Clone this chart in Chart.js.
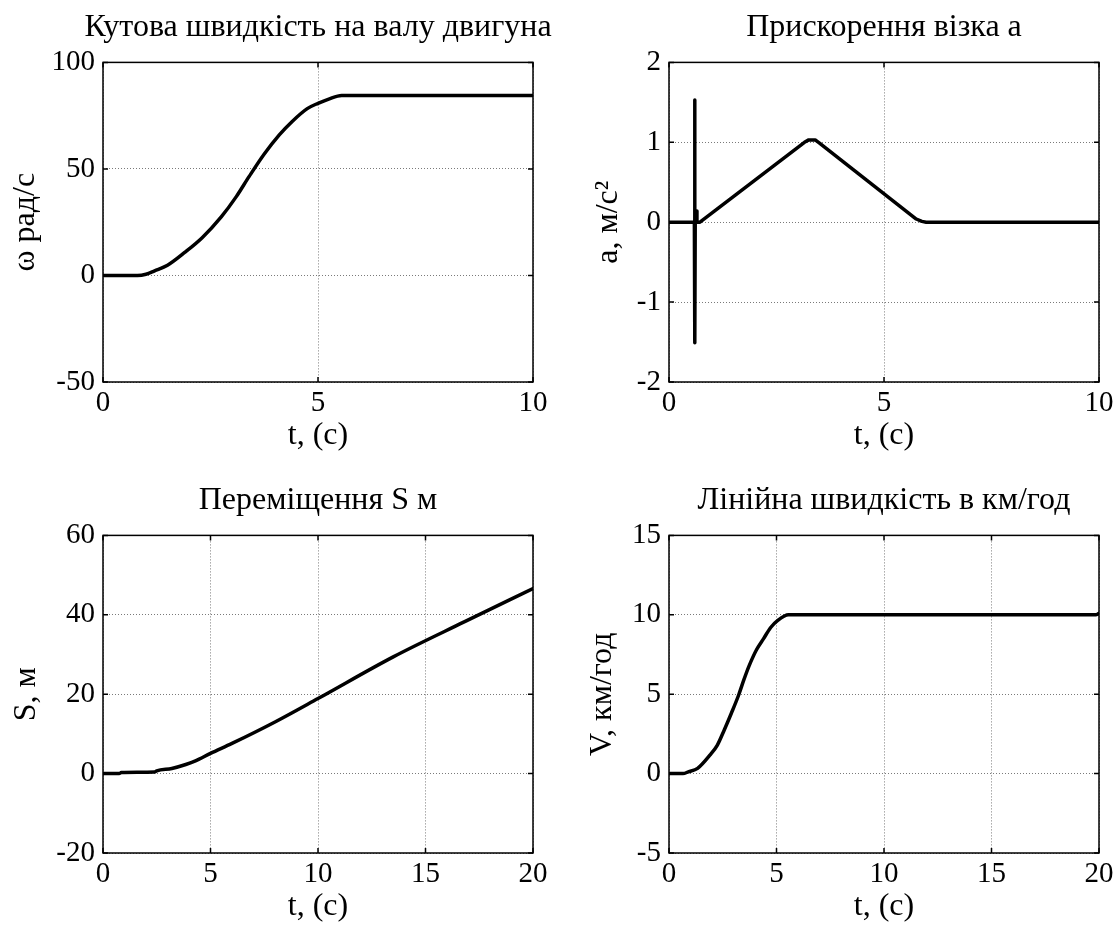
<!DOCTYPE html>
<html>
<head>
<meta charset="utf-8">
<title>Розгін візка</title>
<script src="https://cdn.jsdelivr.net/npm/chart.js@4.4.1/dist/chart.umd.min.js"></script>
<style>
    html, body { margin: 0; padding: 0; background: #fff; overflow: hidden; }
    #fig { position: relative; width: 1118px; height: 925px; overflow: hidden; background: #fff; }
    #fig canvas { position: absolute; }
</style>
</head>
<body>
<div id="fig">
    <canvas id="omegaChart"></canvas>
    <canvas id="accChart"></canvas>
    <canvas id="distChart"></canvas>
    <canvas id="speedChart"></canvas>
</div>
<script>
// ── Values ──────────────────────────────────────────────────────────────────
const omegaT = [0, 0.8, 1.0, 1.2, 1.5, 1.9, 2.3, 2.75, 3.1, 3.4, 3.75, 4.1, 4.4, 4.75, 5.0, 5.25, 5.55, 10];
const omegaW = [0, 0, 0.6, 2.2, 4.8, 10.8, 17.6, 27.5, 37, 46.5, 57, 66, 72.3, 78.3, 80.8, 82.8, 84.5, 84.5];

const accT = [0, 0.59, 0.6, 0.6, 0.61, 0.63, 0.65, 0.72, 3.15, 3.25, 3.4, 3.5, 5.75, 5.88, 5.98, 10];
const accA = [0, 0, 1.53, -1.51, 0, 0.14, 0, 0, 1.0, 1.03, 1.03, 0.99, 0.04, 0.01, 0, 0];

const distT = [0, 0.75, 0.85, 2.4, 2.5, 3.2, 3.85, 4.3, 5, 6, 8, 10, 13.5, 16.8, 20];
const distS = [0, 0, 0.25, 0.4, 0.7, 1.3, 2.3, 3.2, 5.1, 7.6, 13.0, 18.9, 29.4, 38.2, 46.6];

const speedT = [0, 0.65, 0.9, 1.33, 1.9, 2.25, 2.57, 2.9, 3.24, 3.48, 3.73, 4.07, 4.4, 4.73, 5.06, 5.56, 19.85, 20];
const speedV = [0, 0, 0.11, 0.33, 1.16, 1.8, 2.75, 3.8, 4.95, 5.9, 6.8, 7.8, 8.5, 9.2, 9.65, 10, 10, 10.1];

// ── Tick values ─────────────────────────────────────────────────────────────
const ticksT10   = [0, 5, 10];
const ticksT20   = [0, 5, 10, 15, 20];
const ticksOmega = [-50, 0, 50, 100];
const ticksAcc   = [-2, -1, 0, 1, 2];
const ticksDist  = [-20, 0, 20, 40, 60];
const ticksSpeed = [-5, 0, 5, 10, 15];

(function () {
    'use strict';

    const TICK_FONT  = 29;
    const LABEL_FONT = 32;                    // titles and axis labels are ~1.1x the tick font
    Chart.defaults.font.family = "'Liberation Serif', 'Times New Roman', serif";
    Chart.defaults.font.size   = TICK_FONT;
    Chart.defaults.color       = '#000';

    const GRID      = '#7a7a7a';
    const SIDE      = 103;                    // y-axis box, mirrored on the right so the title centres on the plot
    const TITLE_PAD = { top: 6, bottom: 16 };
    const XAXIS_H   = 80;
    const TICK_LEN  = 5;

    // MATLAB-ish frame: full box plus inward tick marks on all four sides
    const boxTicks = {
        id: 'boxTicks',
        afterDraw(chart) {
            const { ctx, chartArea: a, scales: { x, y } } = chart;
            ctx.save();
            ctx.strokeStyle = '#000';
            ctx.lineWidth = 1.5;
            ctx.strokeRect(a.left, a.top, a.right - a.left, a.bottom - a.top);
            ctx.beginPath();
            x.ticks.forEach(t => {
                const px = x.getPixelForValue(t.value);
                ctx.moveTo(px, a.bottom); ctx.lineTo(px, a.bottom - TICK_LEN);
                ctx.moveTo(px, a.top);    ctx.lineTo(px, a.top + TICK_LEN);
            });
            y.ticks.forEach(t => {
                const py = y.getPixelForValue(t.value);
                ctx.moveTo(a.left, py);  ctx.lineTo(a.left + TICK_LEN, py);
                ctx.moveTo(a.right, py); ctx.lineTo(a.right - TICK_LEN, py);
            });
            ctx.stroke();
            ctx.restore();
        }
    };

    function pairs(xs, ys) {
        return xs.map((v, i) => ({ x: v, y: ys[i] }));
    }

    function fixedTicks(list) {
        return scale => { scale.ticks = list.map(v => ({ value: v })); };
    }

    function panel(id, cfg) {
        const el = document.getElementById(id);
        const [l, t, r, b] = cfg.area;
        const titleH = TITLE_PAD.top + TITLE_PAD.bottom + LABEL_FONT * 1.2;

        el.width  = (r - l) + SIDE * 2;
        el.height = Math.round(titleH + (b - t) + XAXIS_H);
        el.style.left = (l - SIDE) + 'px';
        el.style.top  = (t - titleH) + 'px';

        const xT = cfg.xTicks, yT = cfg.yTicks;

        new Chart(el, {
            type: 'scatter',
            data: {
                datasets: [{
                    data:                   pairs(cfg.xs, cfg.ys),
                    showLine:               true,
                    borderColor:            '#000',
                    borderWidth:            3.5,
                    pointRadius:            0,
                    fill:                   false,
                    tension:                0,
                    cubicInterpolationMode: cfg.smooth ? 'monotone' : 'default',
                    borderJoinStyle:        'round',
                    borderCapStyle:         'round'
                }]
            },
            options: {
                responsive: false,
                animation:  false,
                events:     [],
                layout:     { padding: 0 },
                plugins: {
                    legend:  { display: false },
                    tooltip: { enabled: false },
                    title: {
                        display: true,
                        text:    cfg.title,
                        padding: TITLE_PAD,
                        font:    { size: LABEL_FONT, weight: 'normal' }
                    }
                },
                scales: {
                    x: {
                        type: 'linear', position: 'bottom',
                        min: xT[0], max: xT[xT.length - 1],
                        afterBuildTicks: fixedTicks(xT),
                        afterFit: s => { s.height = XAXIS_H; },
                        grid:   { color: GRID, lineWidth: 1, drawTicks: false },
                        border: { display: false, dash: [1, 2] },
                        ticks:  { padding: 4, maxRotation: 0, autoSkip: false, callback: v => String(v) },
                        title:  {
                            display: true, text: 't, (c)',
                            font: { size: LABEL_FONT },
                            padding: { top: 0, bottom: 7 }
                        }
                    },
                    y: {
                        type: 'linear', position: 'left',
                        min: yT[0], max: yT[yT.length - 1],
                        afterBuildTicks: fixedTicks(yT),
                        afterFit: s => { s.width = SIDE; },
                        grid:   { color: GRID, lineWidth: 1, drawTicks: false },
                        border: { display: false, dash: [1, 2] },
                        ticks:  { padding: 8, autoSkip: false, callback: v => String(v) },
                        title:  {
                            display: true, text: cfg.yLabel,
                            font: { size: LABEL_FONT },
                            padding: { top: cfg.yLabelPad, bottom: 0 }
                        }
                    },
                    yR: {
                        type: 'linear', position: 'right',
                        min: yT[0], max: yT[yT.length - 1],
                        afterFit: s => { s.width = SIDE; },
                        grid:   { display: false },
                        border: { display: false },
                        ticks:  { display: false }
                    }
                }
            },
            plugins: [boxTicks]
        });
    }

    // ── 1. Angular speed of the motor shaft ────────────────────────────────
    panel('omegaChart', {
        area: [103, 62, 533, 382],
        title: 'Кутова швидкість на валу двигуна',
        yLabel: 'ω рад/с', yLabelPad: 6,
        xs: omegaT, ys: omegaW, smooth: true,
        xTicks: ticksT10, yTicks: ticksOmega
    });

    // ── 2. Cart acceleration ────────────────────────────────────────────────
    panel('accChart', {
        area: [669, 62, 1099, 382],
        title: 'Прискорення візка a',
        yLabel: 'a, м/с²', yLabelPad: 23,
        xs: accT, ys: accA, smooth: false,
        xTicks: ticksT10, yTicks: ticksAcc
    });

    // ── 3. Displacement ─────────────────────────────────────────────────────
    panel('distChart', {
        area: [103, 535, 533, 853],
        title: 'Переміщення S м',
        yLabel: 'S, м', yLabelPad: 7,
        xs: distT, ys: distS, smooth: true,
        xTicks: ticksT20, yTicks: ticksDist
    });

    // ── 4. Linear speed, km/h ───────────────────────────────────────────────
    panel('speedChart', {
        area: [669, 535, 1099, 853],
        title: 'Лінійна швидкість в км/год',
        yLabel: 'V, км/год', yLabelPad: 17,
        xs: speedT, ys: speedV, smooth: true,
        xTicks: ticksT20, yTicks: ticksSpeed
    });
})();
</script>
</body>
</html>
